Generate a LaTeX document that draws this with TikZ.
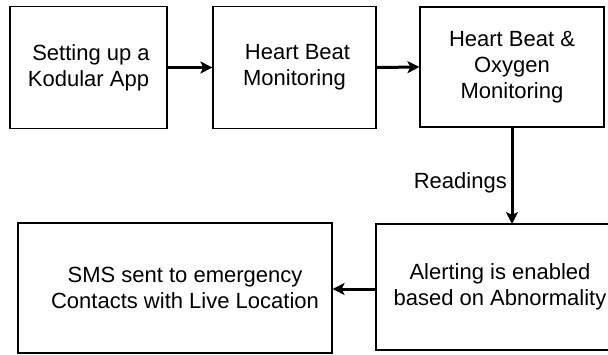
\documentclass[tikz,border=0pt]{standalone}
\usepackage{fontspec}
\setmainfont{Liberation Sans}
\usetikzlibrary{arrows.meta}
\begin{document}
\begin{tikzpicture}[x=1pt,y=-1pt,
  stepbox/.style={draw=black,line width=1.2pt,fill=white,inner sep=0pt,
    align=center,font=\fontsize{22}{26}\selectfont},
  txt/.style={inner sep=0pt,align=center,font=\fontsize{22}{26}\selectfont},
  flow/.style={line width=3pt,-{Stealth[length=12pt,width=12pt,inset=3pt]}}]
\useasboundingbox (0,0) rectangle (608,354);
% top row
\node[stepbox,minimum width=157pt,minimum height=122pt] (setup) at (88.5,67.5)
  {\hspace*{5pt}Setting up a\\Kodular App};
\node[stepbox,minimum width=163pt,minimum height=122pt] (hb) at (294.5,67.5)
  {\hspace*{6pt}Heart Beat\\Monitoring};
\node[stepbox,minimum width=184pt,minimum height=120pt] (hbo) at (512,67)
  {Heart Beat \&\\Oxygen\\Monitoring};
% bottom row
\node[stepbox,minimum width=314pt,minimum height=130pt] (sms) at (175,288) {};
\node[txt] (smstext) at (185,288)
  {SMS sent to emergency\\Contacts with Live Location};
\node[stepbox,minimum width=248pt,minimum height=126pt] (alert) at (500,287)
  {Alerting is enabled\\based on Abnormality};
% connectors
\draw[flow] (setup.east) -- (hb.west);
\draw[flow] (hb.east) -- (hbo.west);
\coordinate (drop) at (512,224);
\draw[flow] (hbo.south) -- (drop);
\node[txt,anchor=east] (readings) at (507,183) {Readings};
\draw[flow] (alert.west |- 0,289) -- (sms.east |- 0,289);
\end{tikzpicture}
\end{document}
